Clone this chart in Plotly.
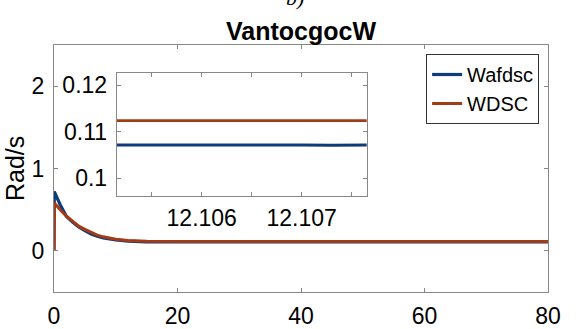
import plotly.graph_objects as go

# ---- data ----
t_main = [0, 0.05, 1, 2, 3, 4, 5, 6, 7, 8, 10, 12, 15, 20, 30, 40, 50, 60, 70, 80]
wafdsc = [0, 0.72, 0.56, 0.42, 0.35, 0.29, 0.245, 0.205, 0.178, 0.158, 0.133, 0.118, 0.110, 0.1075, 0.1073, 0.1072, 0.1072, 0.1072, 0.1072, 0.1072]
wdsc = [0, 0.58, 0.50, 0.42, 0.36, 0.30, 0.26, 0.22, 0.19, 0.17, 0.14, 0.125, 0.116, 0.113, 0.1124, 0.1124, 0.1124, 0.1124, 0.1124, 0.1124]

t_zoom = [12.1051, 12.1055, 12.1060, 12.1062, 12.1065, 12.1070, 12.1073, 12.1077]
wafdsc_zoom = [0.10712, 0.10715, 0.10718, 0.10719, 0.10717, 0.10712, 0.10711, 0.10712]
wdsc_zoom = [0.11237, 0.11237, 0.11237, 0.11237, 0.11237, 0.11237, 0.11237, 0.11237]

main_xticks = [0, 20, 40, 60, 80]
main_yticks = [0, 1, 2]
zoom_xticks = [12.1055, 12.106, 12.1065, 12.107, 12.1075]
zoom_xticklabels = ["", "12.106", "", "12.107", ""]
zoom_yticks = [0.10, 0.11, 0.12]
zoom_yticklabels = ["0.1", "0.11", "0.12"]

BLUE = "#0f3b78"
RED = "#a23c16"
AX = "#888888"
FONT = "Liberation Sans, Arial, sans-serif"

fig = go.Figure()
fig.add_trace(go.Scatter(x=t_main, y=wafdsc, mode="lines", name="Wafdsc",
                         line=dict(color=BLUE, width=3.2)))
fig.add_trace(go.Scatter(x=t_main, y=wdsc, mode="lines", name="WDSC",
                         line=dict(color=RED, width=3)))
fig.add_trace(go.Scatter(x=t_zoom, y=wafdsc_zoom, mode="lines", showlegend=False,
                         line=dict(color=BLUE, width=3), xaxis="x2", yaxis="y2"))
fig.add_trace(go.Scatter(x=t_zoom, y=wdsc_zoom, mode="lines", showlegend=False,
                         line=dict(color=RED, width=2.6), xaxis="x2", yaxis="y2"))

axcommon = dict(showgrid=False, zeroline=False, showline=True, linecolor=AX, linewidth=1,
                mirror="ticks", ticks="inside", ticklen=4, tickcolor=AX, automargin=False,
                tickfont=dict(family=FONT, size=23, color="black"))

fig.update_layout(
    width=584, height=329,
    margin=dict(l=54, r=36, t=45, b=37, autoexpand=False),
    paper_bgcolor="white", plot_bgcolor="white",
    font=dict(family=FONT, color="black"),
    title=dict(text="<b>VantocgocW</b>", x=0.5, xref="paper", y=1 - 31 / 329,
               yanchor="middle", xanchor="center",
               font=dict(family=FONT, size=25, color="black")),
    xaxis=dict(range=[0, 80], tickvals=main_xticks, ticklabelstandoff=3, **axcommon),
    yaxis=dict(range=[-0.5, 2.5], tickvals=main_yticks, ticklabelstandoff=4, **axcommon),
    xaxis2=dict(domain=[0.127, 0.633], anchor="y2", range=[12.10515, 12.10765],
                tickvals=zoom_xticks, ticktext=zoom_xticklabels, ticklabelstandoff=2, **axcommon),
    yaxis2=dict(domain=[0.39, 0.885], anchor="x2", range=[0.09627, 0.12251],
                tickvals=zoom_yticks, ticktext=zoom_yticklabels, ticklabelstandoff=4, **axcommon),
    legend=dict(x=0.982, y=0.9636, xanchor="right", yanchor="top",
                bgcolor="white", bordercolor="#333333", borderwidth=1,
                font=dict(family=FONT, size=20, color="black"),
                itemwidth=30, tracegroupgap=0),
    showlegend=True,
)

fig.add_annotation(text="Rad/s", xref="paper", yref="paper", x=(14.5 - 54) / 494, y=0.5,
                   xanchor="center", yanchor="middle", textangle=-90, showarrow=False,
                   font=dict(family=FONT, size=25, color="black"))
fig.add_annotation(text="<i>b)</i>", xref="paper", yref="paper", x=(295 - 54) / 494,
                   y=1 + (45 - 12) / 247, xanchor="center", yanchor="bottom", showarrow=False,
                   font=dict(family="Liberation Serif, Times New Roman, serif", size=22, color="black"))

fig.write_html("out.html")
